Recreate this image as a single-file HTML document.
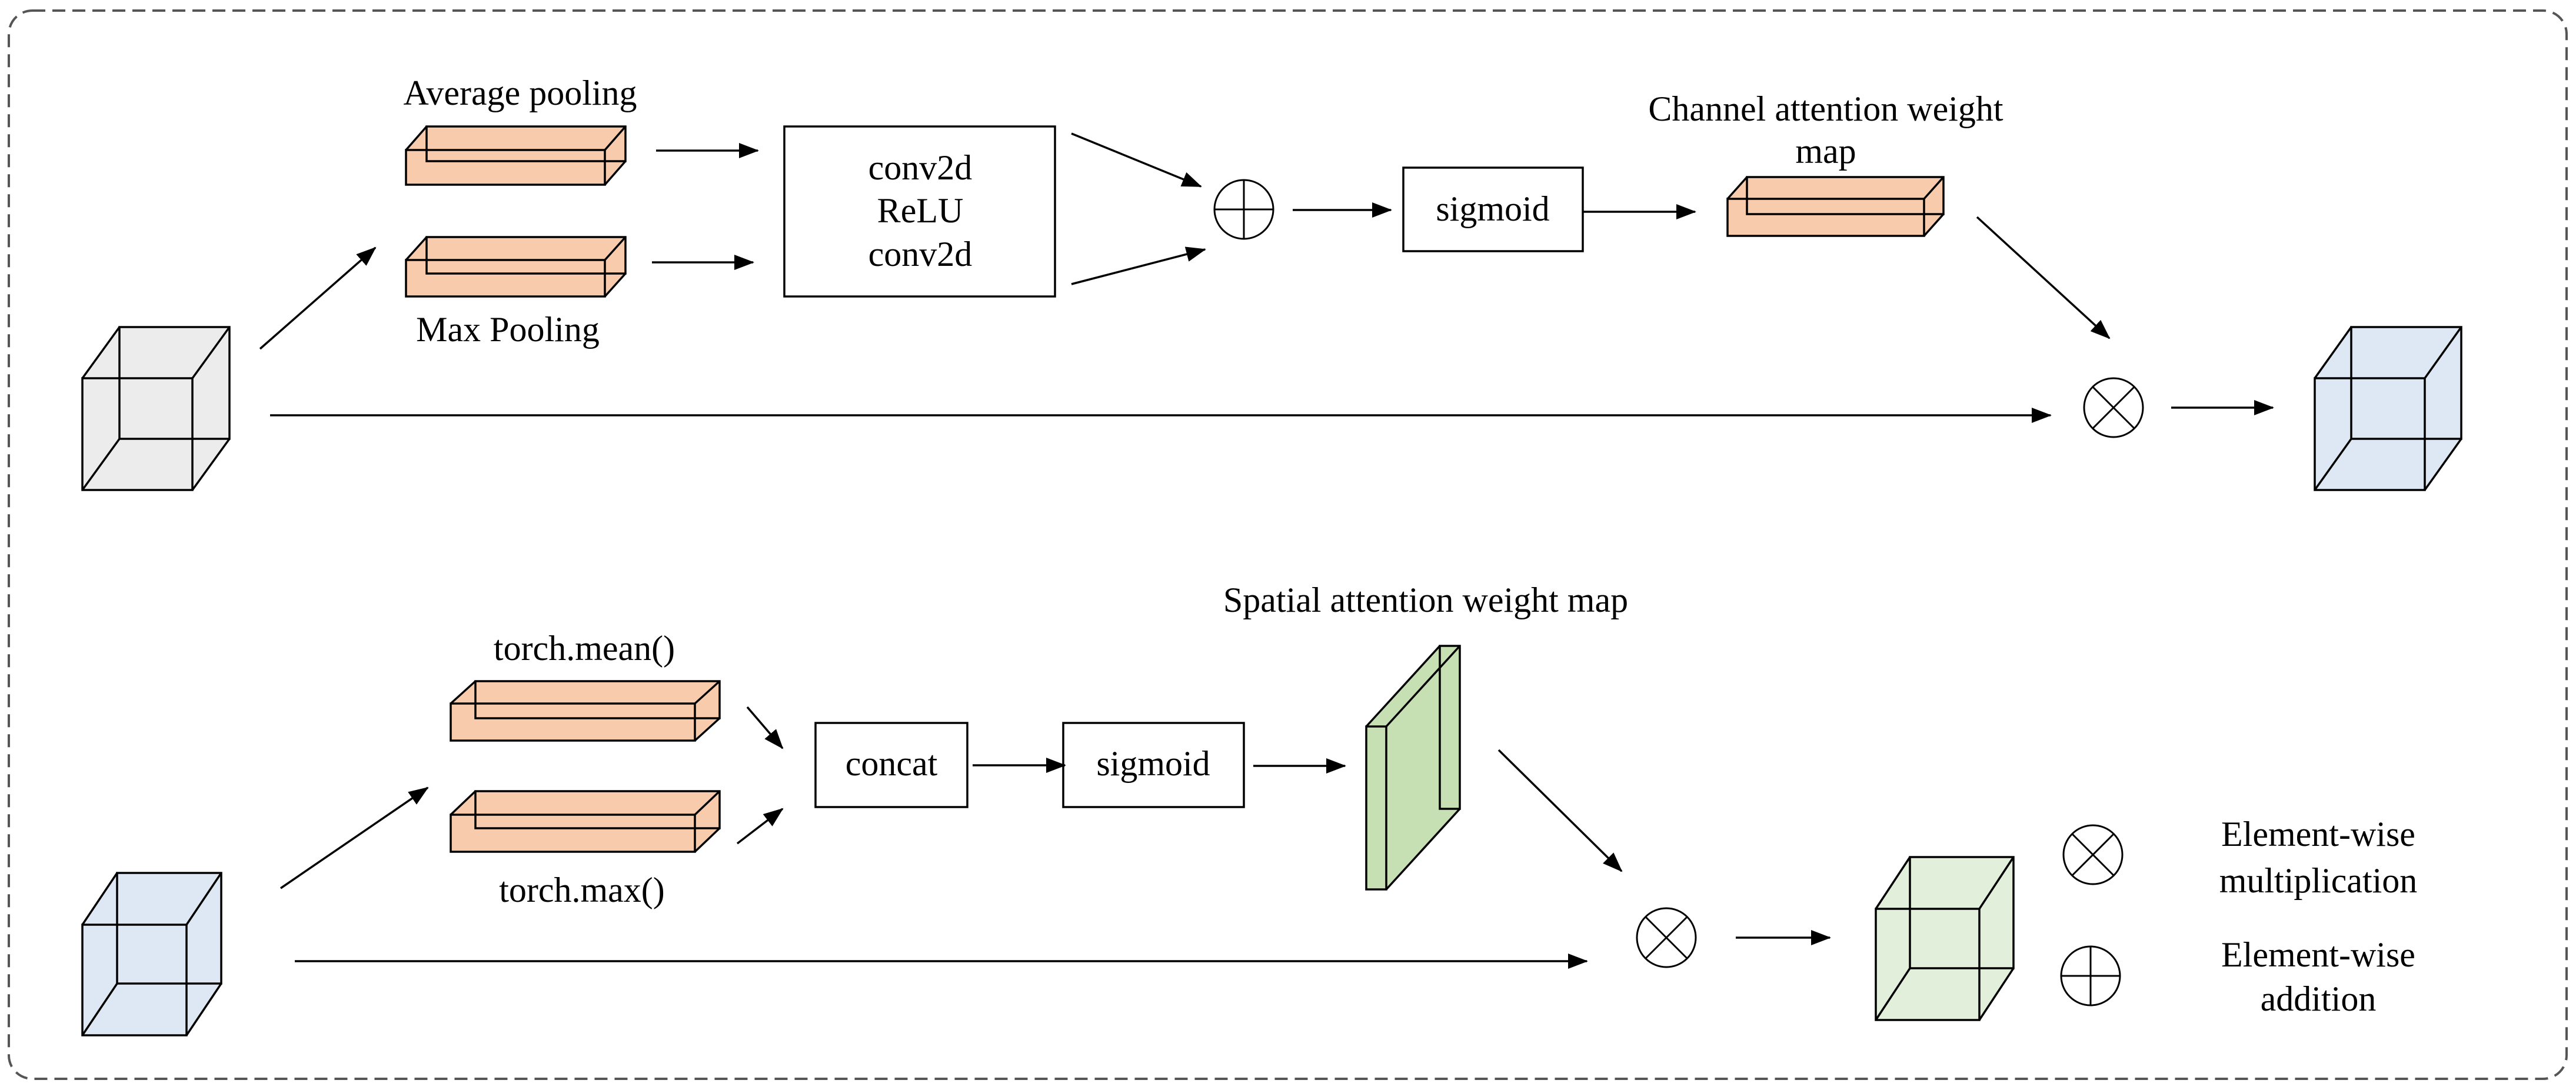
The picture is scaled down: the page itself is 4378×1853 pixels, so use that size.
<!DOCTYPE html>
<html><head><meta charset="utf-8"><style>
html,body{margin:0;padding:0;background:#fff;}
svg{display:block;}
text{font-family:"Liberation Serif",serif;font-size:60px;fill:#000;}
</style></head><body>
<svg width="4378" height="1853" viewBox="0 0 4378 1853" xmlns="http://www.w3.org/2000/svg">
<defs>
<marker id="a" markerUnits="userSpaceOnUse" markerWidth="34" markerHeight="26" refX="32" refY="13" orient="auto">
<path d="M0,0 L34,13 L0,26 Z" fill="#000"/>
</marker>
</defs>
<rect x="15" y="18" width="4347" height="1816" rx="40" ry="40" fill="none" stroke="#555" stroke-width="4" stroke-dasharray="22,12"/>

<g stroke="#000" stroke-width="3.5" fill="none">
<!-- grey cube -->
<polygon points="140,643 203,556 390,556 390,746 327,833 140,833" fill="#ececec" stroke="none"/>
<rect x="140" y="643" width="187" height="190"/><rect x="203" y="556" width="187" height="190"/>
<path d="M140,643L203,556M327,643L390,556M327,833L390,746M140,833L203,746"/>
<!-- output blue cube -->
<polygon points="3934,643 3996,556 4183,556 4183,746 4121,833 3934,833" fill="#dde8f4" stroke="none"/>
<rect x="3934" y="643" width="187" height="190"/><rect x="3996" y="556" width="187" height="190"/>
<path d="M3934,643L3996,556M4121,643L4183,556M4121,833L4183,746M3934,833L3996,746"/>
<!-- avg -->
<polygon points="690,255 725,215 1063,215 1063,274 1028,314 690,314" fill="#f8cbad" stroke="none"/>
<rect x="690" y="255" width="338" height="59"/><rect x="725" y="215" width="338" height="59"/>
<path d="M690,255L725,215M1028,255L1063,215M1028,314L1063,274"/>
<!-- max -->
<polygon points="690,442 725,403 1063,403 1063,465 1028,504 690,504" fill="#f8cbad" stroke="none"/>
<rect x="690" y="442" width="338" height="62"/><rect x="725" y="403" width="338" height="62"/>
<path d="M690,442L725,403M1028,442L1063,403M1028,504L1063,465"/>
<!-- channel map -->
<polygon points="2936,338 2969,301 3303,301 3303,364 3270,401 2936,401" fill="#f8cbad" stroke="none"/>
<rect x="2936" y="338" width="334" height="63"/><rect x="2969" y="301" width="334" height="63"/>
<path d="M2936,338L2969,301M3270,338L3303,301M3270,401L3303,364"/>
<!-- bottom blue cube -->
<polygon points="140,1572 199,1484 376,1484 376,1672 317,1760 140,1760" fill="#dde8f4" stroke="none"/>
<rect x="140" y="1572" width="177" height="188"/><rect x="199" y="1484" width="177" height="188"/>
<path d="M140,1572L199,1484M317,1572L376,1484M317,1760L376,1672M140,1760L199,1672"/>
<!-- mean -->
<polygon points="766,1196 808,1158 1223,1158 1223,1221 1181,1259 766,1259" fill="#f8cbad" stroke="none"/>
<rect x="766" y="1196" width="415" height="63"/><rect x="808" y="1158" width="415" height="63"/>
<path d="M766,1196L808,1158M1181,1196L1223,1158M1181,1259L1223,1221"/>
<!-- tmax -->
<polygon points="766,1385 808,1345 1223,1345 1223,1408 1181,1448 766,1448" fill="#f8cbad" stroke="none"/>
<rect x="766" y="1385" width="415" height="63"/><rect x="808" y="1345" width="415" height="63"/>
<path d="M766,1385L808,1345M1181,1385L1223,1345M1181,1448L1223,1408"/>
<!-- slab -->
<polygon points="2322,1235 2447,1098 2481,1098 2481,1375 2356,1512 2322,1512" fill="#c6e0b4" stroke="none"/>
<rect x="2322" y="1235" width="34" height="277"/><rect x="2447" y="1098" width="34" height="277"/>
<path d="M2322,1235L2447,1098M2356,1235L2481,1098M2356,1512L2481,1375"/>
<!-- green cube -->
<polygon points="3188,1545 3246,1457 3422,1457 3422,1646 3364,1734 3188,1734" fill="#e2efda" stroke="none"/>
<rect x="3188" y="1545" width="176" height="189"/><rect x="3246" y="1457" width="176" height="189"/>
<path d="M3188,1545L3246,1457M3364,1545L3422,1457M3364,1734L3422,1646M3188,1734L3246,1646"/>

<!-- boxes -->
<rect x="1333" y="215" width="460" height="289" fill="#fff"/>
<rect x="2385" y="285" width="305" height="142" fill="#fff"/>
<rect x="1386" y="1229" width="258" height="143" fill="#fff"/>
<rect x="1807" y="1229" width="307" height="143" fill="#fff"/>
</g>

<!-- circles -->
<g stroke="#000" stroke-width="3" fill="#fff">
<circle cx="2114" cy="356" r="50"/><path d="M2064,356H2164M2114,306V406"/>
<circle cx="3592" cy="693" r="50"/><path d="M3557,658L3627,728M3627,658L3557,728"/>
<circle cx="2832" cy="1594" r="50"/><path d="M2797,1559L2867,1629M2867,1559L2797,1629"/>
<circle cx="3557" cy="1453" r="50"/><path d="M3522,1418L3592,1488M3592,1418L3522,1488"/>
<circle cx="3553" cy="1659" r="50"/><path d="M3503,1659H3603M3553,1609V1709"/>
</g>

<!-- arrows -->
<g stroke="#000" stroke-width="3.5" fill="none" marker-end="url(#a)">
<path d="M442,593L638,421"/>
<path d="M1115,256L1288,256"/>
<path d="M1108,446L1280,446"/>
<path d="M1821,227L2041,317"/>
<path d="M1821,483L2048,424"/>
<path d="M2197,357L2364,357"/>
<path d="M2690,360L2881,360"/>
<path d="M3360,369L3585,575"/>
<path d="M459,706L3485,706"/>
<path d="M3690,693L3863,693"/>
<path d="M477,1510L727,1339"/>
<path d="M1270,1202L1330,1272"/>
<path d="M1253,1434L1330,1375"/>
<path d="M1653,1301L1810,1301"/>
<path d="M2130,1302L2286,1302"/>
<path d="M2547,1275L2756,1481"/>
<path d="M501,1634L2697,1634"/>
<path d="M2950,1594L3110,1594"/>
</g>

<!-- text -->
<g text-anchor="middle">
<text x="884" y="178">Average pooling</text>
<text x="863" y="580">Max Pooling</text>
<text x="1564" y="305">conv2d</text>
<text x="1564" y="378">ReLU</text>
<text x="1564" y="452">conv2d</text>
<text x="2537" y="375">sigmoid</text>
<text x="3103" y="205">Channel attention weight</text>
<text x="3103" y="277">map</text>
<text x="993" y="1122">torch.mean()</text>
<text x="989" y="1533">torch.max()</text>
<text x="1515" y="1318">concat</text>
<text x="1960" y="1318">sigmoid</text>
<text x="2423" y="1040">Spatial attention weight map</text>
<text x="3940" y="1438">Element-wise</text>
<text x="3940" y="1517">multiplication</text>
<text x="3940" y="1643">Element-wise</text>
<text x="3940" y="1718">addition</text>
</g>
</svg>
</body></html>
